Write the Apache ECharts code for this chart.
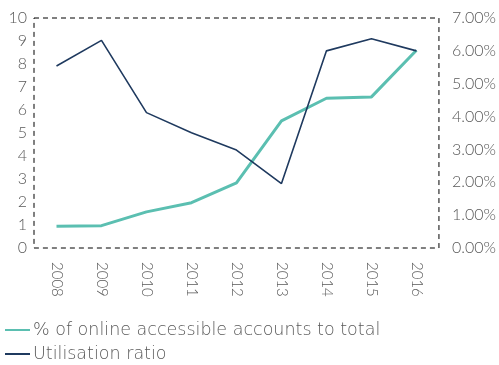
<!DOCTYPE html>
<html>
<head>
<meta charset="utf-8">
<script src="https://cdn.jsdelivr.net/npm/echarts@6/dist/echarts.min.js"></script>
<style>
  html, body { margin: 0; padding: 0; background: #fff; }
  #chart { width: 499px; height: 365px; }
</style>
</head>
<body>
<div id="chart"></div>
<script>
// Years on the category axis
const years = ['2008', '2009', '2010', '2011', '2012', '2013', '2014', '2015', '2016'];
// Share of online accessible accounts (left axis)
const onlineAccounts = [0.95, 0.97, 1.57, 1.97, 2.83, 5.53, 6.51, 6.57, 8.6];
// Utilisation ratio in percent (right axis)
const utilisationRatio = [5.54, 6.32, 4.12, 3.51, 2.98, 1.96, 6.0, 6.37, 6.0];
// Series names
const seriesNames = ['% of online accessible accounts to total', 'Utilisation ratio'];

const FONT = 'Lato';
const LEGEND_FONT = '"DejaVu Sans"';
const TEXT_COLOR = '#595959';

const chart = echarts.init(document.getElementById('chart'), null, { renderer: 'canvas' });
chart.setOption({
  animation: false,
  textStyle: { fontFamily: FONT, color: TEXT_COLOR },
  grid: {
    left: 34, right: 60, top: 18, bottom: 117,
    show: true,
    borderColor: '#000',
    borderWidth: 1,
    borderType: [5, 4],
    backgroundColor: 'transparent'
  },
  legend: {
    orient: 'vertical',
    left: 5,
    top: 318,
    height: 80,
    itemWidth: 25,
    itemHeight: 2,
    itemGap: 0,
    padding: 0,
    textStyle: {
      fontFamily: LEGEND_FONT, fontSize: 17.5, fontWeight: 200, color: TEXT_COLOR,
      lineHeight: 24, padding: [0, 0, 0, -2]
    },
    data: [
      { name: seriesNames[0], icon: 'rect' },
      { name: seriesNames[1], icon: 'rect' }
    ]
  },
  xAxis: {
    type: 'category',
    data: years,
    boundaryGap: true,
    axisLine: { show: false },
    axisTick: { show: false },
    axisLabel: {
      rotate: -90,
      margin: 14,
      fontFamily: FONT, fontSize: 15, fontWeight: 300, color: TEXT_COLOR
    }
  },
  yAxis: [
    {
      type: 'value',
      min: 0, max: 10, interval: 1,
      axisLine: { show: false },
      axisTick: { show: false },
      splitLine: { show: false },
      axisLabel: { margin: 7, fontFamily: FONT, fontSize: 16, fontWeight: 300, color: TEXT_COLOR }
    },
    {
      type: 'value',
      min: 0, max: 7, interval: 1,
      position: 'right',
      axisLine: { show: false },
      axisTick: { show: false },
      splitLine: { show: false },
      axisLabel: {
        margin: 13, fontFamily: FONT, fontSize: 16, fontWeight: 300, color: TEXT_COLOR,
        formatter: v => v.toFixed(2) + '%'
      }
    }
  ],
  series: [
    {
      name: seriesNames[0],
      type: 'line',
      yAxisIndex: 0,
      data: onlineAccounts,
      symbol: 'none',
      color: '#5bbfb1',
      lineStyle: { width: 3, color: '#5bbfb1' }
    },
    {
      name: seriesNames[1],
      type: 'line',
      yAxisIndex: 1,
      data: utilisationRatio,
      symbol: 'none',
      color: '#1f3a5f',
      lineStyle: { width: 1.6, color: '#1f3a5f' }
    }
  ]
});
</script>
</body>
</html>
